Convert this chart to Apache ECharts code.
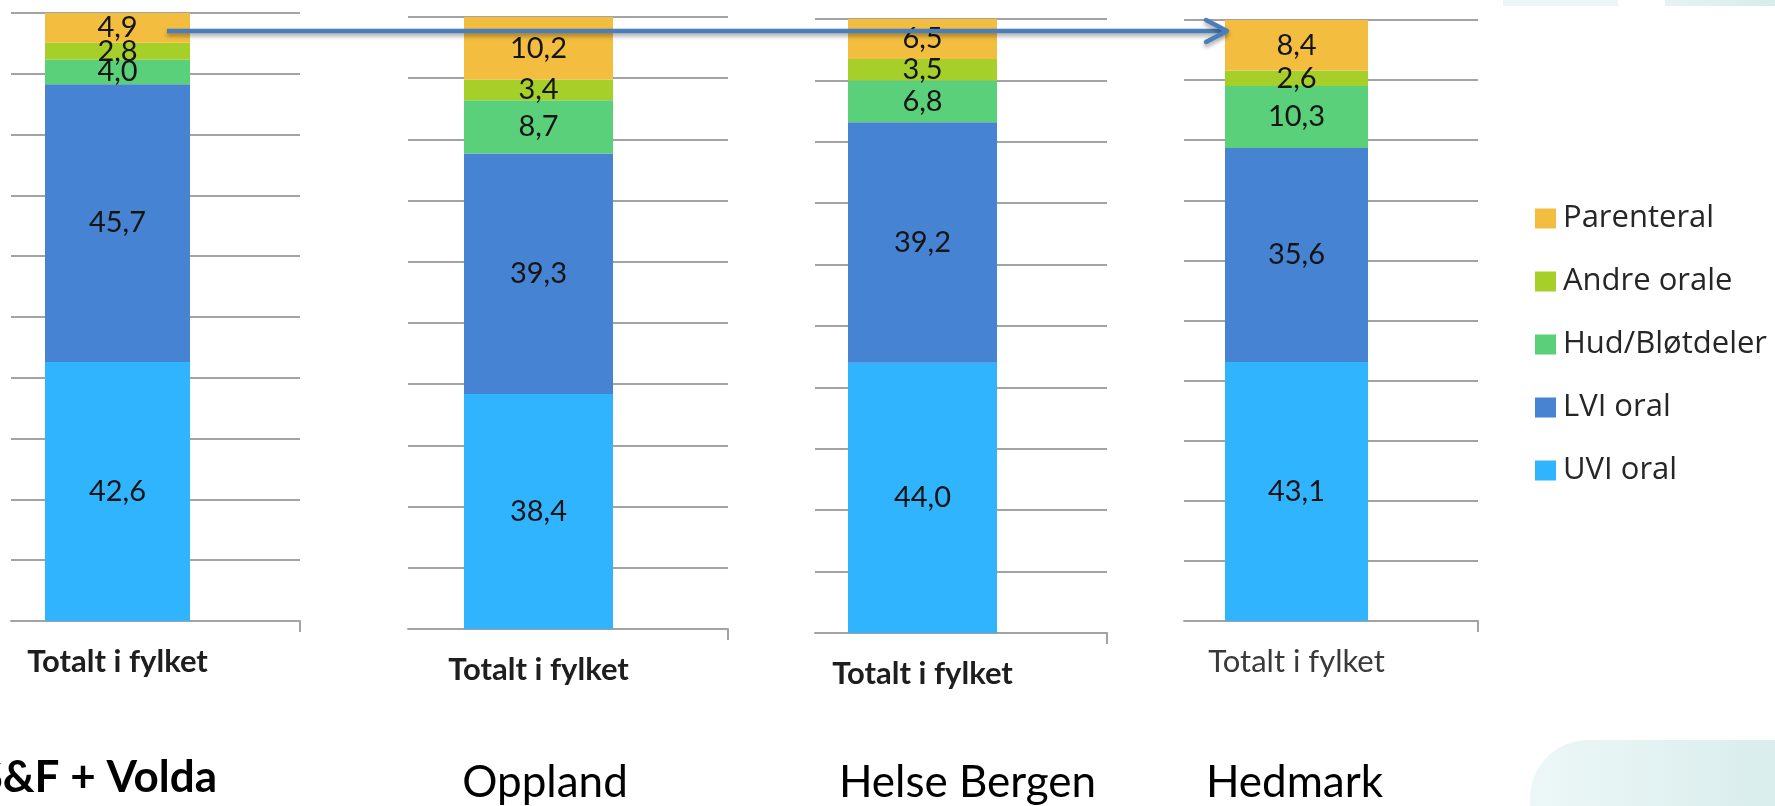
<!DOCTYPE html>
<html>
<head>
<meta charset="utf-8">
<script src="https://cdn.jsdelivr.net/npm/echarts@6/dist/echarts.min.js"></script>
<style>
  html, body { margin: 0; padding: 0; background: #ffffff; }
  #chart { width: 1775px; height: 806px; }
</style>
</head>
<body>
<div id="chart"></div>
<script>
// ---- Data ----
const panelNames = ['S&F + Volda', 'Oppland', 'Helse Bergen', 'Hedmark'];
const categories = ['Totalt i fylket'];
const seriesNames = ['UVI oral', 'LVI oral', 'Hud/Bløtdeler', 'Andre orale', 'Parenteral'];
const uviOral      = [42.6, 38.4, 44.0, 43.1];
const lviOral      = [45.7, 39.3, 39.2, 35.6];
const hudBlotdeler = [4.0, 8.7, 6.8, 10.3];
const andreOrale   = [2.8, 3.4, 3.5, 2.6];
const parenteral   = [4.9, 10.2, 6.5, 8.4];
const legendOrder  = ['Parenteral', 'Andre orale', 'Hud/Bløtdeler', 'LVI oral', 'UVI oral'];
const yMin = 0, yMax = 100, yStep = 10;

// ---- Styles / layout (not data) ----
const seriesValues = [uviOral, lviOral, hudBlotdeler, andreOrale, parenteral];
const seriesColors = ['#31b4fe', '#4683d2', '#5ad07a', '#a6cf2a', '#f3bd40'];
const layout = [
  { gl: 11,   gr: 300,  top: 13, bottom: 621, barC: 117.5,  barW: 145, bold: true,  lblColor: '#1e1e1e' },
  { gl: 408,  gr: 728,  top: 17, bottom: 629, barC: 538.5,  barW: 149, bold: true,  lblColor: '#1e1e1e' },
  { gl: 815,  gr: 1107, top: 19, bottom: 633, barC: 922.5,  barW: 149, bold: true,  lblColor: '#1e1e1e' },
  { gl: 1184, gr: 1478, top: 20, bottom: 621, barC: 1296.5, barW: 143, bold: false, lblColor: '#3a3a3a' }
];
const titlePos = [
  { x: 217,    y: 800, align: 'right',  weight: 'bold' },
  { x: 545,    y: 805, align: 'center', weight: 'normal' },
  { x: 967.5,  y: 805, align: 'center', weight: 'normal' },
  { x: 1294.5, y: 805, align: 'center', weight: 'normal' }
];
const gridColor = '#a3a3a3';

const grids = [], xAxes = [], yAxes = [], series = [];
layout.forEach((L, p) => {
  // grid A: gridlines + baseline
  grids.push({ left: L.gl, width: L.gr - L.gl, top: L.top, height: L.bottom - L.top, outerBoundsMode: 'none' });
  // grid B: bars, centred on the bar position
  const halfW = L.barC - L.gl;
  grids.push({ left: L.gl, width: 2 * halfW, top: L.top, height: L.bottom - L.top, outerBoundsMode: 'none' });

  xAxes.push({
    type: 'value', gridIndex: 2 * p, min: 0, max: 1,
    axisLine: { show: true, lineStyle: { color: gridColor, width: 2 } },
    axisTick: { show: true, customValues: [1], length: 11, lineStyle: { color: gridColor, width: 2 } },
    axisLabel: { show: false }, splitLine: { show: false }
  });
  yAxes.push({
    type: 'value', gridIndex: 2 * p, min: yMin, max: yMax, interval: yStep,
    axisLabel: { show: false }, axisLine: { show: false }, axisTick: { show: false },
    splitLine: { show: true, lineStyle: { color: gridColor, width: 2 } }
  });
  xAxes.push({
    type: 'category', gridIndex: 2 * p + 1, data: categories,
    axisLine: { show: false }, axisTick: { show: false }, splitLine: { show: false },
    axisLabel: {
      show: true, margin: 25, fontFamily: 'Lato', fontSize: 31,
      fontWeight: L.bold ? 'bold' : 'normal', color: L.lblColor
    }
  });
  yAxes.push({
    type: 'value', gridIndex: 2 * p + 1, min: yMin, max: yMax, interval: yStep, show: false,
    splitLine: { show: false }
  });

  seriesNames.forEach((name, s) => {
    series.push({
      type: 'bar', name: name,
      xAxisIndex: 2 * p + 1, yAxisIndex: 2 * p + 1,
      stack: 'panel' + p, barWidth: L.barW,
      data: [seriesValues[s][p]],
      itemStyle: { color: seriesColors[s] },
      label: {
        show: true, position: 'inside',
        fontFamily: 'Lato', fontSize: 29, color: '#141414',
        formatter: (d) => d.value.toFixed(1).replace('.', ',')
      },
      emphasis: { disabled: true }
    });
  });
});

const graphics = [
  // decorative shapes at right
  { type: 'rect', shape: { x: 1503, y: -10, width: 115, height: 16 }, style: { fill: '#ecf6f6' }, z: -10 },
  { type: 'rect', shape: { x: 1665, y: -10, width: 120, height: 16 },
    style: { fill: { type: 'linear', x: 0, y: 0, x2: 1, y2: 0, colorStops: [{ offset: 0, color: '#e6f3f3' }, { offset: 1, color: '#d6ebea' }] } }, z: -10 },
  { type: 'rect', shape: { x: 1530, y: 740, width: 300, height: 120, r: [58, 0, 0, 0] },
    style: { fill: { type: 'linear', x: 0, y: 0, x2: 1, y2: 0, colorStops: [{ offset: 0, color: '#edf7f7' }, { offset: 1, color: '#d4ebea' }] } }, z: -10 },
  // arrow
  { type: 'polyline', z: 100, shape: { points: [[167, 31], [1224, 31]] },
    style: { stroke: '#4a7ebb', lineWidth: 4.5, fill: null, shadowBlur: 4, shadowOffsetY: 3, shadowColor: 'rgba(0,0,0,0.35)' } },
  { type: 'polyline', z: 100, shape: { points: [[1206, 20], [1227, 31], [1206, 42]] },
    style: { stroke: '#4a7ebb', lineWidth: 4.5, fill: null, lineCap: 'round', lineJoin: 'round', shadowBlur: 4, shadowOffsetY: 3, shadowColor: 'rgba(0,0,0,0.35)' } }
];
panelNames.forEach((t, i) => {
  const P = titlePos[i];
  graphics.push({
    type: 'text', z: 50, x: P.x, y: P.y,
    style: {
      text: t, fill: '#000', align: P.align, verticalAlign: 'bottom',
      font: P.weight + ' 44px Lato'
    }
  });
});

const option = {
  animation: false,
  backgroundColor: '#ffffff',
  grid: grids,
  xAxis: xAxes,
  yAxis: yAxes,
  legend: {
    data: legendOrder, orient: 'vertical', left: 1530, top: 198,
    icon: 'rect', itemWidth: 21, itemHeight: 20, itemGap: 32,
    selectedMode: false,
    textStyle: { fontFamily: 'Open Sans', fontSize: 31, color: '#262626', lineHeight: 30, padding: [0, 0, 0, 2] }
  },
  series: series,
  graphic: graphics
};

const chart = echarts.init(document.getElementById('chart'), null, { renderer: 'canvas' });
chart.setOption(option);
</script>
</body>
</html>
